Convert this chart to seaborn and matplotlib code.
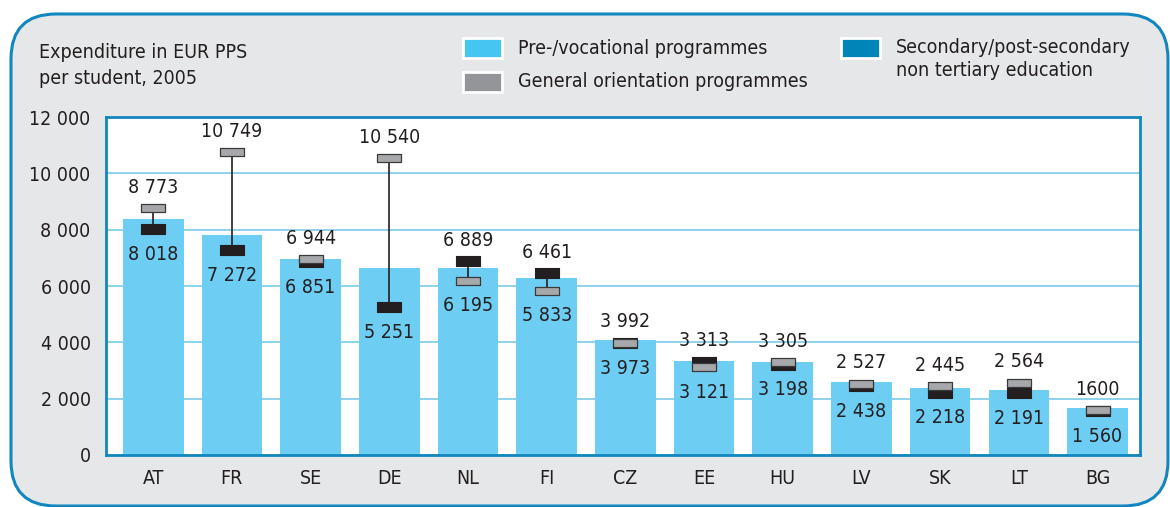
import numpy as np
import matplotlib
matplotlib.use("Agg")
import matplotlib.pyplot as plt
import seaborn as sns
from matplotlib.patches import FancyBboxPatch, Rectangle

# data
countries = ["AT", "FR", "SE", "DE", "NL", "FI", "CZ", "EE", "HU", "LV", "SK", "LT", "BG"]
bar_values = [8370, 7800, 6950, 6630, 6630, 6280, 4080, 3330, 3300, 2590, 2380, 2300, 1670]
general = [8773, 10749, 6944, 10540, 6195, 5833, 3992, 3121, 3305, 2527, 2445, 2564, 1600]
secondary = [8018, 7272, 6851, 5251, 6889, 6461, 3973, 3313, 3198, 2438, 2218, 2191, 1560]
y_ticks = [0, 2000, 4000, 6000, 8000, 10000, 12000]

legend_items = [
    ("Pre-/vocational programmes", "#45c6f0"),
    ("General orientation programmes", "#939598"),
    ("Secondary/post-secondary\nnon tertiary education", "#0085b8"),
]

BAR = "#6dcdf3"
GREY = "#a6a8ab"
DARK = "#231f20"
BLUE = "#1287bf"
TXT = "#231f20"

sns.set_style("white")
plt.rcParams["font.family"] = ["DejaVu Sans"]
plt.rcParams["font.stretch"] = "condensed"
plt.rcParams["text.color"] = TXT

W, H = 1170, 507
fig = plt.figure(figsize=(W / 100, H / 100), dpi=100)
fig.patch.set_facecolor("white")

# rounded grey panel
panel = FancyBboxPatch((0.11, 0.01), 11.57, 4.92, boxstyle="round,pad=0,rounding_size=0.45",
                       transform=fig.dpi_scale_trans, facecolor="#e6e7e8",
                       edgecolor=BLUE, lw=2.2, zorder=-1)
fig.add_artist(panel)

ax = fig.add_axes([106 / W, 52 / H, 1034 / W, 338 / H])
ax.set_facecolor("white")

sns.barplot(x=countries, y=bar_values, color=BAR, saturation=1, width=0.77,
            linewidth=0, ax=ax, zorder=2)

x = np.arange(len(countries))
lo = np.minimum(general, secondary)
hi = np.maximum(general, secondary)

rect = [(-1.35, -0.5), (1.35, -0.5), (1.35, 0.5), (-1.35, 0.5), (-1.35, -0.5)]
ax.vlines(x, lo, hi, color=DARK, lw=1.2, zorder=3)
ax.scatter(x, secondary, marker=rect, s=310, c=DARK, edgecolors=DARK, linewidths=0.8, zorder=4)
ax.scatter(x, general, marker=rect, s=300, c=GREY, edgecolors="#3a3a3a", linewidths=0.9, zorder=5)


def fmt(v):
    return f"{int(v):,}".replace(",", " ")


hi_text = [fmt(v) for v in hi]
hi_text[-1] = "1600"  # printed without space in the source
for xi, h, l, ht in zip(x, hi, lo, hi_text):
    ax.annotate(ht, (xi, h), xytext=(0, 15), textcoords="offset points",
                ha="center", va="center", fontsize=14, zorder=6)
    ax.annotate(fmt(l), (xi, l), xytext=(0, -18), textcoords="offset points",
                ha="center", va="center", fontsize=14, zorder=6)

ax.set_xlim(-0.6, 12.54)
ax.set_ylim(0, 12000)
ax.set_yticks(y_ticks)
ax.set_yticklabels([fmt(v) for v in y_ticks])
ax.set_xlabel("")
ax.set_ylabel("")
ax.yaxis.grid(True, color="#7ccbe8", lw=1.2)
ax.xaxis.grid(False)
ax.set_axisbelow(True)
ax.tick_params(axis="both", length=0, labelsize=14, colors=TXT)
ax.tick_params(axis="y", pad=11)
ax.tick_params(axis="x", pad=10)
for s in ax.spines.values():
    s.set_visible(True)
    s.set_color(BLUE)
    s.set_linewidth(2)

# title
fig.text(39 / W, 1 - 65.5 / H, "Expenditure in EUR PPS\nper student, 2005", fontsize=14,
         ha="left", va="center", linespacing=1.45)

# legend drawn by hand to match the layout
legend_pos = [(463, 48), (463, 82), (841, 48)]
for (label, color), (lx, ly) in zip(legend_items, legend_pos):
    fig.add_artist(Rectangle((lx / W, 1 - (ly + 10) / H), 39 / W, 20 / H,
                             transform=fig.transFigure, facecolor=color,
                             edgecolor="white", lw=2))
    va_y = ly if "\n" not in label else ly + 11
    fig.text((lx + 55) / W, 1 - va_y / H, label, fontsize=14, ha="left",
             va="center", linespacing=1.25)

fig.savefig("out.png", dpi=100)
